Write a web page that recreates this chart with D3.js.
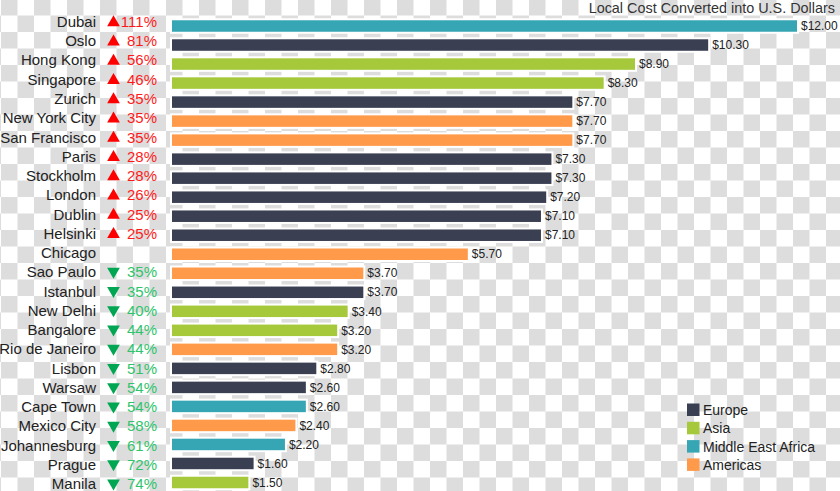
<!DOCTYPE html>
<html>

<head>
    <script type="text/javascript" src="https://cdnjs.cloudflare.com/ajax/libs/d3/7.8.5/d3.min.js"></script>
    <style>
        body {
            margin: 0;
            background: #fff;
        }

        svg text {
            font-family: "Liberation Sans", Arial, sans-serif;
        }
    </style>
</head>

<body>
    <script>
        var cities = ['Dubai', 'Oslo', 'Hong Kong', 'Singapore', 'Zurich', 'New York City', 'San Francisco',
            'Paris', 'Stockholm', 'London', 'Dublin', 'Helsinki', 'Chicago', 'Sao Paulo', 'Istanbul',
            'New Delhi', 'Bangalore', 'Rio de Janeiro', 'Lisbon', 'Warsaw', 'Cape Town', 'Mexico City',
            'Johannesburg', 'Prague', 'Manila'];
        var costs = [12.00, 10.30, 8.90, 8.30, 7.70, 7.70, 7.70, 7.30, 7.30, 7.20, 7.10, 7.10, 5.70,
            3.70, 3.70, 3.40, 3.20, 3.20, 2.80, 2.60, 2.60, 2.40, 2.20, 1.60, 1.50];
        var regions = ['Middle East Africa', 'Europe', 'Asia', 'Asia', 'Europe', 'Americas', 'Americas',
            'Europe', 'Europe', 'Europe', 'Europe', 'Europe', 'Americas', 'Americas', 'Europe',
            'Asia', 'Asia', 'Americas', 'Europe', 'Europe', 'Middle East Africa', 'Americas',
            'Middle East Africa', 'Europe', 'Asia'];
        var changes = [111, 81, 56, 46, 35, 35, 35, 28, 28, 26, 25, 25, null, -35, -35, -40, -44, -44,
            -51, -54, -54, -58, -61, -72, -74];
        var legendNames = ['Europe', 'Asia', 'Middle East Africa', 'Americas'];
        var legendColors = ['#3a3f52', '#a5c93b', '#37a6b4', '#ff9a4b'];

        var width = 840,
            height = 491;

        var svg = d3.select('body')
            .append('svg')
            .attr('width', width)
            .attr('height', height);

        // transparent-look checker background
        var pat = svg.append('defs').append('pattern')
            .attr('id', 'checker')
            .attr('patternUnits', 'userSpaceOnUse')
            .attr('x', 1).attr('y', -1)
            .attr('width', 33).attr('height', 33);
        pat.append('rect').attr('width', 33).attr('height', 33).attr('fill', '#fff');
        pat.append('rect').attr('width', 16.5).attr('height', 16.5).attr('fill', '#dddddd');
        pat.append('rect').attr('x', 16.5).attr('y', 16.5).attr('width', 16.5).attr('height', 16.5).attr('fill', '#dddddd');
        svg.append('rect').attr('width', width).attr('height', height).attr('fill', 'url(#checker)');

        var color = d3.scaleOrdinal().domain(legendNames).range(legendColors);

        var x = d3.scaleLinear()
            .domain([0, 12])
            .range([171, 798]);

        var y = d3.scaleBand()
            .domain(cities)
            .range([16.5, 492])
            .paddingInner(0.29)
            .paddingOuter(0.145);

        var yLabel = d3.scalePoint()
            .domain(cities)
            .range([21.7, 484]);

        // bars (white outline)
        svg.selectAll('rect.bar')
            .data(cities)
            .enter()
            .append('rect')
            .attr('class', 'bar')
            .attr('x', x(0))
            .attr('y', function(d) { return y(d); })
            .attr('width', function(d, i) { return x(costs[i]) - x(0); })
            .attr('height', y.bandwidth())
            .attr('fill', function(d, i) { return color(regions[i]); })
            .style('stroke', '#fff')
            .style('stroke-width', 2);

        // value labels
        svg.selectAll('text.val')
            .data(cities)
            .enter()
            .append('text')
            .attr('class', 'val')
            .attr('x', function(d, i) { return x(costs[i]) + 3; })
            .attr('y', function(d) { return y(d) + y.bandwidth() / 2; })
            .attr('dy', '.35em')
            .style('font-size', '12px')
            .style('fill', '#222')
            .text(function(d, i) { return '$' + costs[i].toFixed(2); });

        // city names
        svg.selectAll('text.city')
            .data(cities)
            .enter()
            .append('text')
            .attr('class', 'city')
            .attr('x', 96)
            .attr('y', function(d) { return yLabel(d); })
            .attr('dy', '.35em')
            .style('font-size', '15px')
            .style('fill', '#222')
            .style('text-anchor', 'end')
            .text(function(d) { return d; });

        // change arrows + percentages
        var tri = d3.symbol().type(d3.symbolTriangle).size(70);
        var rows = cities.filter(function(d, i) { return changes[i] !== null; });

        svg.selectAll('path.arrow')
            .data(rows)
            .enter()
            .append('path')
            .attr('class', 'arrow')
            .attr('d', tri)
            .attr('transform', function(d) {
                var c = changes[cities.indexOf(d)];
                return 'translate(113.5,' + (yLabel(d) + (c > 0 ? 0.8 : -0.8)) + ')' + (c < 0 ? ' rotate(180)' : '');
            })
            .attr('fill', function(d) { return changes[cities.indexOf(d)] > 0 ? '#ff0000' : '#00a651'; });

        svg.selectAll('text.pct')
            .data(rows)
            .enter()
            .append('text')
            .attr('class', 'pct')
            .attr('x', 157)
            .attr('y', function(d) { return yLabel(d); })
            .attr('dy', '.35em')
            .style('font-size', '15px')
            .style('text-anchor', 'end')
            .style('fill', function(d) { return changes[cities.indexOf(d)] > 0 ? '#ff1a1a' : '#2ec46c'; })
            .text(function(d) { return Math.abs(changes[cities.indexOf(d)]) + '%'; });

        // title
        svg.append('text')
            .attr('x', 835)
            .attr('y', 13)
            .style('font-size', '14.4px')
            .style('fill', '#333')
            .style('text-anchor', 'end')
            .text('Local Cost Converted into U.S. Dollars');

        // legend
        var legend = svg.selectAll('g.legend')
            .data(legendNames)
            .enter()
            .append('g')
            .attr('class', 'legend')
            .attr('transform', function(d, i) {
                return 'translate(687,' + (410 + i * 18.3) + ')';
            });

        legend.append('rect')
            .attr('y', -6.5)
            .attr('width', 12.5)
            .attr('height', 12.5)
            .attr('fill', function(d) { return color(d); });

        legend.append('text')
            .attr('x', 16)
            .attr('dy', '.35em')
            .style('font-size', '14px')
            .style('fill', '#222')
            .text(function(d) { return d; });

    </script>
</body>

</html>
